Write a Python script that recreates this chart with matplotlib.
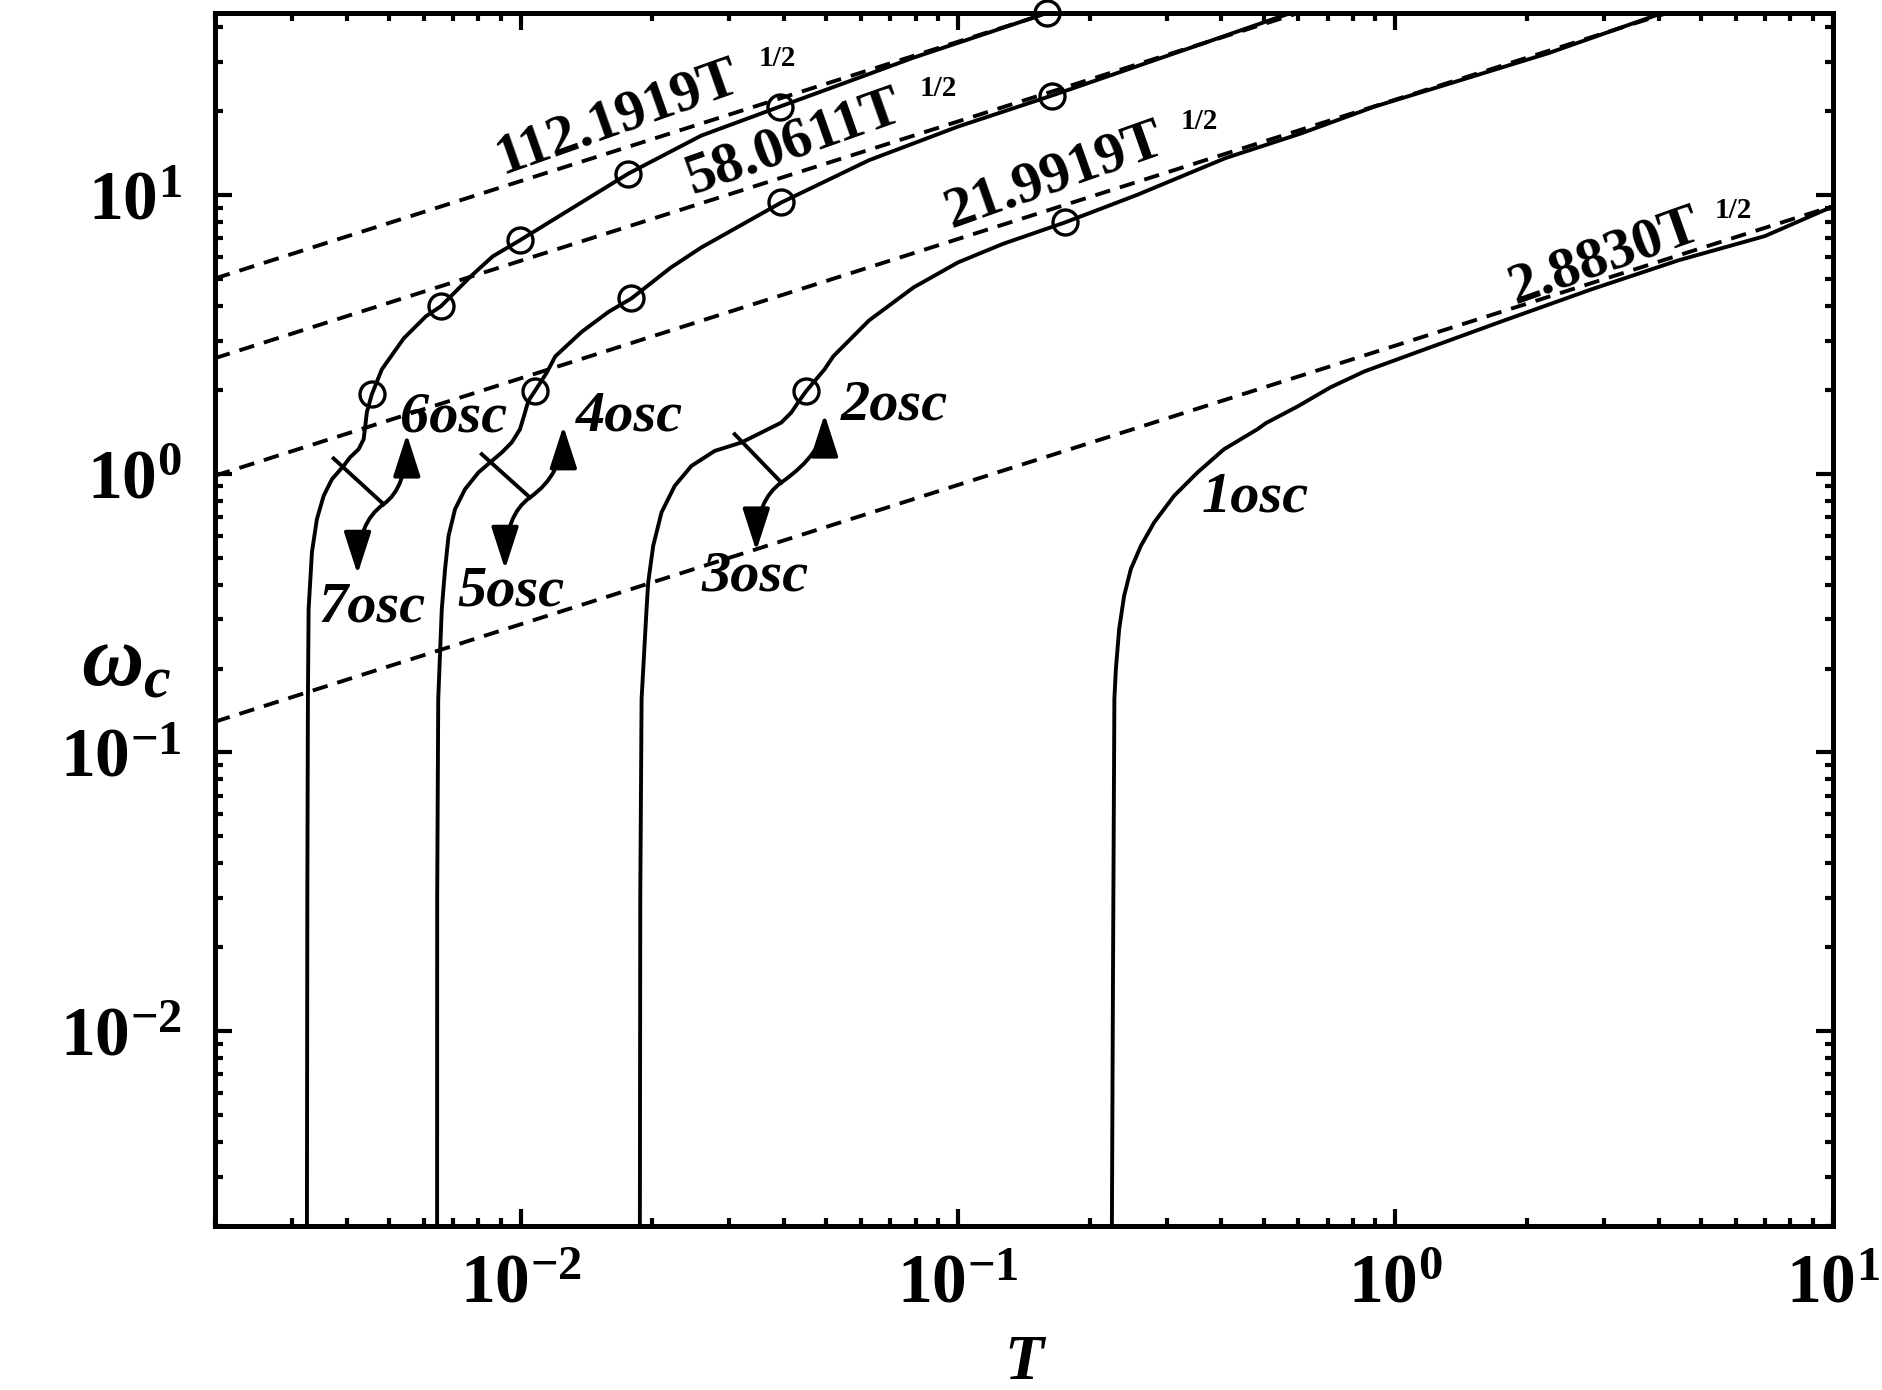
import matplotlib
matplotlib.use('Agg')
import matplotlib.pyplot as plt
from matplotlib.patches import FancyArrowPatch

# Times-like bold fonts
plt.rcParams['font.family'] = 'Liberation Serif'
plt.rcParams['font.weight'] = 'bold'
plt.rcParams['mathtext.fontset'] = 'custom'
plt.rcParams['mathtext.rm'] = 'Liberation Serif:bold'
plt.rcParams['mathtext.it'] = 'Liberation Serif:italic:bold'
plt.rcParams['mathtext.bf'] = 'Liberation Serif:bold'

# ---- data ----
# asymptotes  c*T^(1/2), end points at T = 0.002 and T = 10
dash_T = [0.002, 10.0]
dash1_W = [0.1289, 9.117]
dash23_W = [0.9835, 69.54]
dash45_W = [2.597, 183.6]
dash67_W = [5.017, 354.8]
dash_labels = ['2.8830T', '21.9919T', '58.0611T', '112.1919T']

# 1osc branch
curve1_T = [0.2247, 0.2262, 0.2277, 0.2295, 0.2335, 0.2397, 0.2483, 0.2618, 0.2807,
            0.3117, 0.3526, 0.4055, 0.4832, 0.5049, 0.6, 0.7105, 0.85, 1.1225,
            1.774, 2.803, 4.428, 6.995, 9.639, 10.0]
curve1_W = [0.0019, 0.02, 0.1556, 0.1992, 0.2772, 0.3648, 0.4547, 0.5511, 0.6685,
            0.8325, 1.01, 1.224, 1.443, 1.517, 1.75, 2.042, 2.33, 2.733,
            3.549, 4.585, 5.824, 7.123, 8.872, 9.0]

# 2osc / 3osc branch
curve23_T = [0.01873, 0.01877, 0.0189, 0.0194, 0.01957, 0.02009, 0.02099, 0.0225,
             0.02457, 0.02777, 0.03195, 0.0355, 0.03944, 0.04156, 0.04306, 0.04498,
             0.04952, 0.05184, 0.0626, 0.07914, 0.1, 0.1267, 0.1755, 0.2563, 0.4091,
             0.6069, 0.8954, 2.235, 3.944, 4.2]
curve23_W = [0.0019, 0.0299, 0.1556, 0.3268, 0.4074, 0.5511, 0.7261, 0.9043,
             1.0665, 1.207, 1.294, 1.405, 1.526, 1.657, 1.8, 1.981,
             2.369, 2.637, 3.549, 4.661, 5.731, 6.68, 7.969, 10.0, 13.57,
             16.61, 20.75, 32.26, 44.15, 45.5]

# 4osc / 5osc branch
curve45_T = [0.006441, 0.006444, 0.00648, 0.006602, 0.006717, 0.006841, 0.007079,
             0.007461, 0.008005, 0.008509, 0.009051, 0.009538, 0.009963, 0.01023,
             0.01041, 0.01078, 0.01147, 0.012, 0.01378, 0.01588, 0.01792, 0.02207,
             0.02589, 0.03944, 0.0626, 0.1, 0.1639, 0.3587, 0.579, 0.62]
curve45_W = [0.0019, 0.0299, 0.1556, 0.3268, 0.4547, 0.5984, 0.746,
             0.880, 1.01, 1.097, 1.191, 1.294, 1.443, 1.657,
             1.823, 1.981, 2.305, 2.637, 3.226, 3.807, 4.256, 5.497,
             6.483, 9.40, 13.33, 17.6, 22.74, 34.74, 45.1, 46.6]

# 6osc / 7osc branch
curve67_T = [0.003246, 0.003253, 0.003263, 0.003275, 0.003333, 0.003421, 0.003544,
             0.003703, 0.003936, 0.004076, 0.004261, 0.004375, 0.00441, 0.00445,
             0.004568, 0.004816, 0.005405, 0.006069, 0.006568, 0.007688, 0.008632,
             0.009947, 0.01325, 0.01764, 0.02589, 0.03916, 0.05563, 0.0791, 0.1126,
             0.1596, 0.17]
curve67_W = [0.0019, 0.0299, 0.1556, 0.3268, 0.5232, 0.687, 0.8325,
             0.9556, 1.066, 1.146, 1.224, 1.329, 1.468, 1.661,
             1.927, 2.369, 3.06, 3.668, 3.985, 5.105, 6.022,
             6.87, 9.06, 11.94, 16.34, 20.76, 25.39, 31.1, 37.4,
             44.95, 46.4]

# open circles on the branches
circ_T = [0.004568, 0.006568, 0.009947, 0.01764, 0.03916, 0.1596,
          0.01078, 0.01792, 0.03944, 0.1639,
          0.04498, 0.1755]
circ_W = [1.927, 3.985, 6.87, 11.94, 20.76, 44.95,
          1.981, 4.256, 9.40, 22.74,
          1.981, 7.969]

# branch-switch marks: tick start, junction, upper arrow tip, lower arrow tip
switch_marks = [
    [(0.003736, 1.134), (0.004859, 0.7776), (0.005492, 1.386), (0.004238, 0.4363)],
    [(0.008147, 1.175), (0.0105, 0.8217), (0.01252, 1.483), (0.00921, 0.4547)],
    [(0.03085, 1.386), (0.03944, 0.93), (0.04952, 1.634), (0.03457, 0.529)],
]

osc_labels = ['1osc', '2osc', '3osc', '4osc', '5osc', '6osc', '7osc']
osc_pos = [(0.3607, 0.7339), (0.05378, 1.568), (0.02589, 0.3823), (0.01335, 1.432),
           (0.007147, 0.3378), (0.005293, 1.42), (0.003457, 0.296)]

dash_label_pos = [(1.879, 4.085), (0.09638, 7.646), (0.0247, 10.12), (0.009051, 11.94)]
half_pos = [(5.378, 8.237), (0.3229, 17.31), (0.08187, 22.73), (0.03495, 29.12)]

# ---- figure ----
fig = plt.figure(figsize=(18.82, 13.90), dpi=100)
ax = fig.add_axes([0.1142, 0.118, 0.8597, 0.8727])
ax.set_xscale('log')
ax.set_yscale('log')

ls_dash = (0, (4, 2.6))
for w in [dash1_W, dash23_W, dash45_W, dash67_W]:
    ax.plot(dash_T, w, color='k', lw=2.8, linestyle=ls_dash)

for t, w in [(curve1_T, curve1_W), (curve23_T, curve23_W),
             (curve45_T, curve45_W), (curve67_T, curve67_W)]:
    ax.plot(t, w, color='k', lw=2.8, solid_joinstyle='round')

ax.plot(circ_T, circ_W, 'o', ms=18, mfc='none', mec='k', mew=2.4, clip_on=False, zorder=5)

for p0, pj, pup, pdn in switch_marks:
    ax.plot([p0[0], pj[0]], [p0[1], pj[1]], color='k', lw=2.8)
    # up arrow leaves the junction to the right and ends pointing up,
    # down arrow leaves to the left and ends pointing down
    for tip in [pup, pdn]:
        arr = FancyArrowPatch(pj, tip, connectionstyle='angle3,angleA=35,angleB=90',
                              arrowstyle='-|>,head_length=1.3,head_width=0.42',
                              mutation_scale=20, lw=2.8, color='k',
                              shrinkA=0, shrinkB=0)
        ax.add_patch(arr)

for lab, (x, y) in zip(osc_labels, osc_pos):
    ax.text(x, y, lab, fontsize=42, fontstyle='italic', fontweight='bold',
            ha='left', va='baseline')

for lab, (x, y), (hx, hy) in zip(dash_labels, dash_label_pos, half_pos):
    ax.text(x, y, lab, fontsize=42, fontweight='bold', rotation=19.5,
            rotation_mode='anchor', ha='left', va='baseline')
    ax.text(hx, hy, '1/2', fontsize=21, fontweight='bold', ha='left', va='baseline')

ax.set_xlim(0.002, 10)
ax.set_ylim(0.002, 45)

for s in ax.spines.values():
    s.set_linewidth(3.6)
ax.tick_params(which='both', direction='in', top=True, right=True, width=3)
ax.tick_params(which='major', length=12, labelsize=50)
ax.tick_params(axis='x', which='major', pad=20)
ax.tick_params(axis='y', which='major', pad=24)
ax.tick_params(which='minor', length=6)

ax.set_xlabel('T', fontsize=46, fontstyle='italic', fontweight='bold')
ax.xaxis.set_label_coords(0.5, -0.09)
ax.set_ylabel(r'$\omega_c$', fontsize=62, rotation=0)
ax.yaxis.set_label_coords(-0.055, 0.43)

fig.savefig('out.png', dpi=100)
